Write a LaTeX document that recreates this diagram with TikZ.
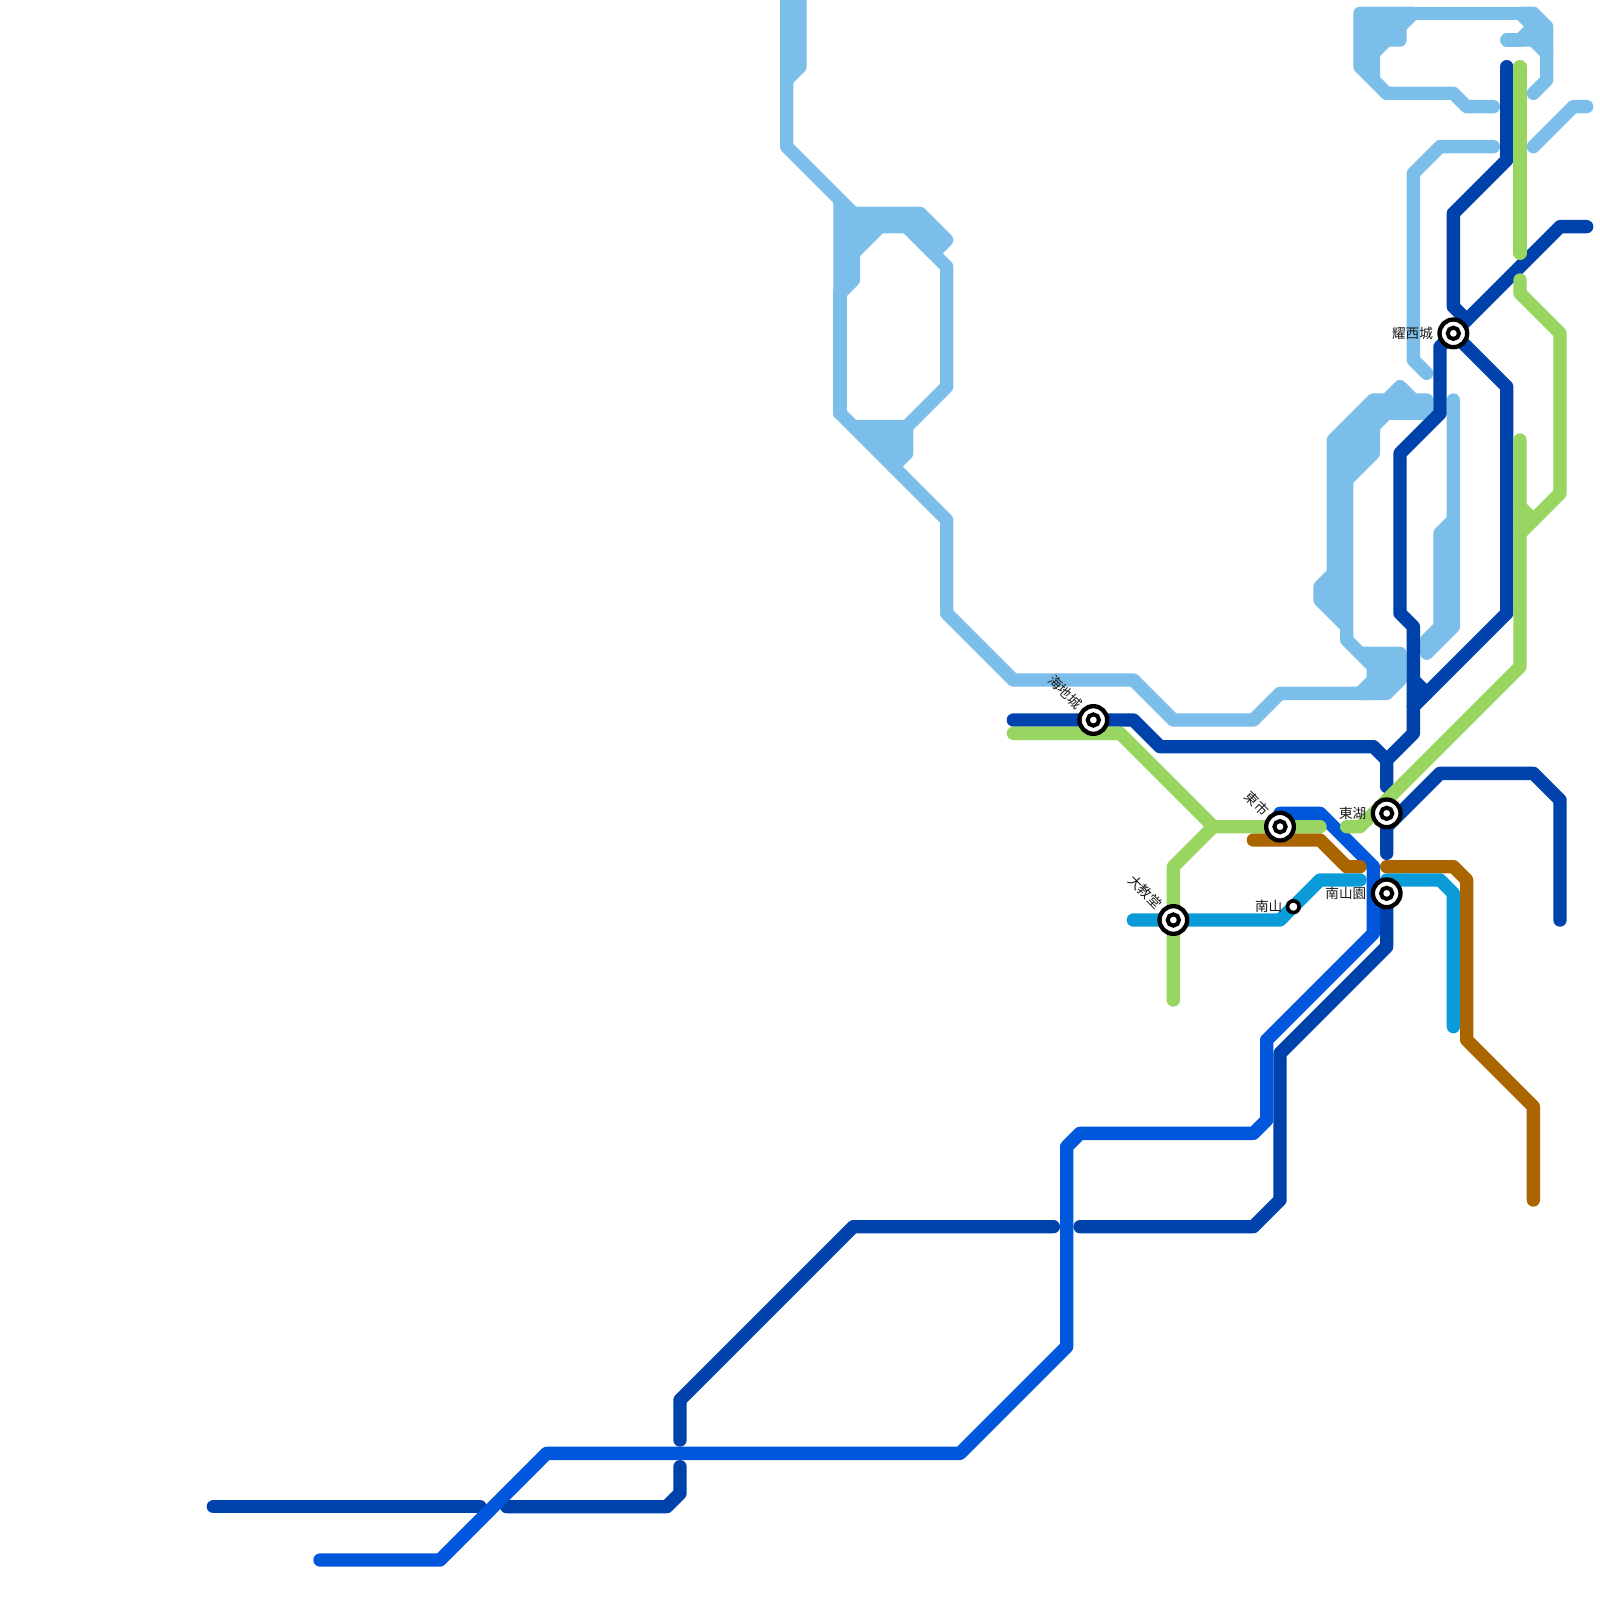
\documentclass[tikz,border=0pt]{standalone}
\usepackage{fontspec}
\setmainfont{Noto Sans CJK TC}
\definecolor{lsky}{HTML}{7BBEEA}
\definecolor{ldark}{HTML}{0042AB}
\definecolor{lblue}{HTML}{0057DB}
\definecolor{lgreen}{HTML}{98D561}
\definecolor{lbrown}{HTML}{AB6500}
\definecolor{lcyan}{HTML}{0A9BD9}
\tikzset{
  route/.style={line width=0.2cm,line cap=round,line join=round},
  sky/.style={route,draw=lsky},
  skyblock/.style={route,draw=lsky,fill=lsky},
  darkline/.style={route,draw=ldark},
  blueline/.style={route,draw=lblue},
  greenline/.style={route,draw=lgreen},
  brownline/.style={route,draw=lbrown},
  cyanline/.style={route,draw=lcyan},
  stnout/.style={circle,draw=black,fill=white,line width=0.065cm,minimum size=0.415cm,inner sep=0pt},
  stnin/.style={circle,draw=black,fill=white,line width=0.06cm,minimum size=0.17cm,inner sep=0pt},
  stnsmall/.style={circle,draw=black,fill=white,line width=0.055cm,minimum size=0.175cm,inner sep=0pt},
  lab/.style={font=\fontsize{5.8pt}{6pt}\selectfont,text=black!90,inner sep=0pt},
}
\begin{document}
\begin{tikzpicture}[x=0.2cm,y=-0.2cm]
\useasboundingbox (0,0) rectangle (120,120);
\clip (0,0) rectangle (120,120);
\fill[white] (0,0) rectangle (120,120);
% station positions
\coordinate (yaoxi) at (109,25);
\coordinate (donghu) at (104,61);
\coordinate (nanshanyuan) at (104,67);
\coordinate (dongshi) at (96,62);
\coordinate (dajiaotang) at (88,69);
\coordinate (haidi) at (82,54);
\coordinate (nanshan) at (97,68);
% sky-blue line and its bundled blocks
\draw[skyblock] (59,-1) -- (60,-1) -- (60,5) -- (59,6) -- cycle;
\draw[sky] (59,0) -- (59,11) -- (63,15);
\draw[skyblock] (63,15) -- (64,16) -- (69,16) -- (71,18) -- (70,19) -- (68,17) -- (66,17) -- (64,19) -- (64,21) -- (63,22) -- cycle;
\draw[sky] (68,17) -- (71,20) -- (71,29) -- (68,32);
\draw[sky] (63,22) -- (63,31);
\draw[skyblock] (63,31) -- (64,32) -- (68,32) -- (68,34) -- (67,35) -- cycle;
\draw[sky] (67,35) -- (71,39) -- (71,46) -- (76,51) -- (85,51) -- (88,54) -- (94,54) -- (96,52) -- (103,52);
\draw[skyblock] (102,1) -- (106,1) -- (105,2) -- (105,3) -- (104,3) -- (103,4) -- (103,6) -- (104,7) -- (102,5) -- cycle;
\draw[sky] (106,1) -- (115,1);
\draw[sky] (104,7) -- (109,7) -- (110,8) -- (112,8);
\draw[skyblock] (114,1) -- (115,1) -- (116,2) -- (116,4) -- (115,3) -- (114,3) -- (115,2) -- cycle;
\draw[sky] (113,3) -- (114,3);
\draw[sky] (116,4) -- (116,6) -- (115,7);
\draw[sky] (115,11) -- (118,8) -- (119,8);
\draw[sky] (112,11) -- (108,11) -- (106,13) -- (106,27) -- (107,28);
\draw[skyblock] (100,33) -- (103,30) -- (104,30) -- (105,29) -- (106,30) -- (107,30) -- (107,31) -- (104,31) -- (103,32) -- (103,34) -- (101,36) -- (101,48) -- (102,49) -- (105,49) -- (105,51) -- (104,52) -- (102,52) -- (103,51) -- (103,50) -- (101,48) -- (101,47) -- (99,45) -- (99,44) -- (100,43) -- cycle;
\draw[skyblock] (109,30) -- (109,47) -- (107,49) -- (107,48) -- (108,47) -- (108,40) -- (109,39) -- cycle;
% dark blue
\draw[darkline] (16,113) -- (36,113);
\draw[darkline] (38,113) -- (50,113) -- (51,112) -- (51,110);
\draw[darkline] (51,108) -- (51,105) -- (64,92) -- (79,92);
\draw[darkline] (81,92) -- (94,92) -- (96,90) -- (96,79) -- (104,71) -- (nanshanyuan);
\draw[darkline] (104,59) -- (104,57) -- (103,56) -- (87,56) -- (85,54) -- (76,54);
\draw[darkline] (104,57) -- (106,55) -- (106,47) -- (105,46) -- (105,34) -- (108,31) -- (108,26) -- (yaoxi);
\draw[darkline] (106,51) -- (107,52);
\draw[darkline] (113,5) -- (113,12) -- (109,16) -- (109,23) -- (110,24);
\draw[darkline] (119,17) -- (117,17) -- (yaoxi);
\draw[darkline] (yaoxi) -- (113,29) -- (113,46) -- (106,53);
\draw[darkline] (117,69) -- (117,60) -- (115,58) -- (108,58) -- (104,62) -- (104,64);
% blue
\draw[blueline] (24,117) -- (33,117) -- (41,109) -- (72,109) -- (80,101) -- (80,86) -- (81,85) -- (94,85) -- (95,84) -- (95,78) -- (103,70) -- (103,65) -- (99,61) -- (96,61) -- (dongshi);
% brown
\draw[brownline] (94,63) -- (99,63) -- (101,65) -- (102,65);
\draw[brownline] (104,65) -- (109,65) -- (110,66) -- (110,78) -- (115,83) -- (115,90);
% cyan
\draw[cyanline] (85,69) -- (96,69) -- (99,66) -- (102,66);
\draw[cyanline] (104,66) -- (108,66) -- (109,67) -- (109,77);
% green
\draw[greenline] (76,55) -- (84,55) -- (91,62) -- (99,62);
\draw[greenline] (91,62) -- (88,65) -- (dajiaotang) -- (88,75);
\draw[greenline] (101,62) -- (102,62) -- (114,50) -- (114,33);
\draw[greenline] (114,38) -- (115,39);
\draw[greenline] (114,40) -- (117,37) -- (117,25) -- (114,22) -- (114,21);
\draw[greenline] (114,5) -- (114,19);
% stations
\foreach \s/\n in {yaoxi/a,donghu/b,nanshanyuan/c,dongshi/d,dajiaotang/e,haidi/f}{
  \node[stnout] (\n out) at (\s) {};
  \node[stnin] (\n in) at (\s) {};
}
\node[stnsmall] (nanshanmark) at (nanshan) {};
% labels
\node[lab,anchor=east] (lyaoxi) at (107.5,25) {耀西城};
\node[lab,anchor=east] (ldonghu) at (102.5,61) {東湖};
\node[lab,anchor=east] (lnanshanyuan) at (102.5,67) {南山園};
\node[lab,anchor=east] (lnanshan) at (96.2,68) {南山};
\node[lab,anchor=east,rotate=-45] (ldongshi) at (95,61) {東市};
\node[lab,anchor=east,rotate=-45] (lhaidi) at (81,53) {海地城};
\node[lab,anchor=east,rotate=-45] (ldajiao) at (87,68) {大教堂};
\end{tikzpicture}
\end{document}
